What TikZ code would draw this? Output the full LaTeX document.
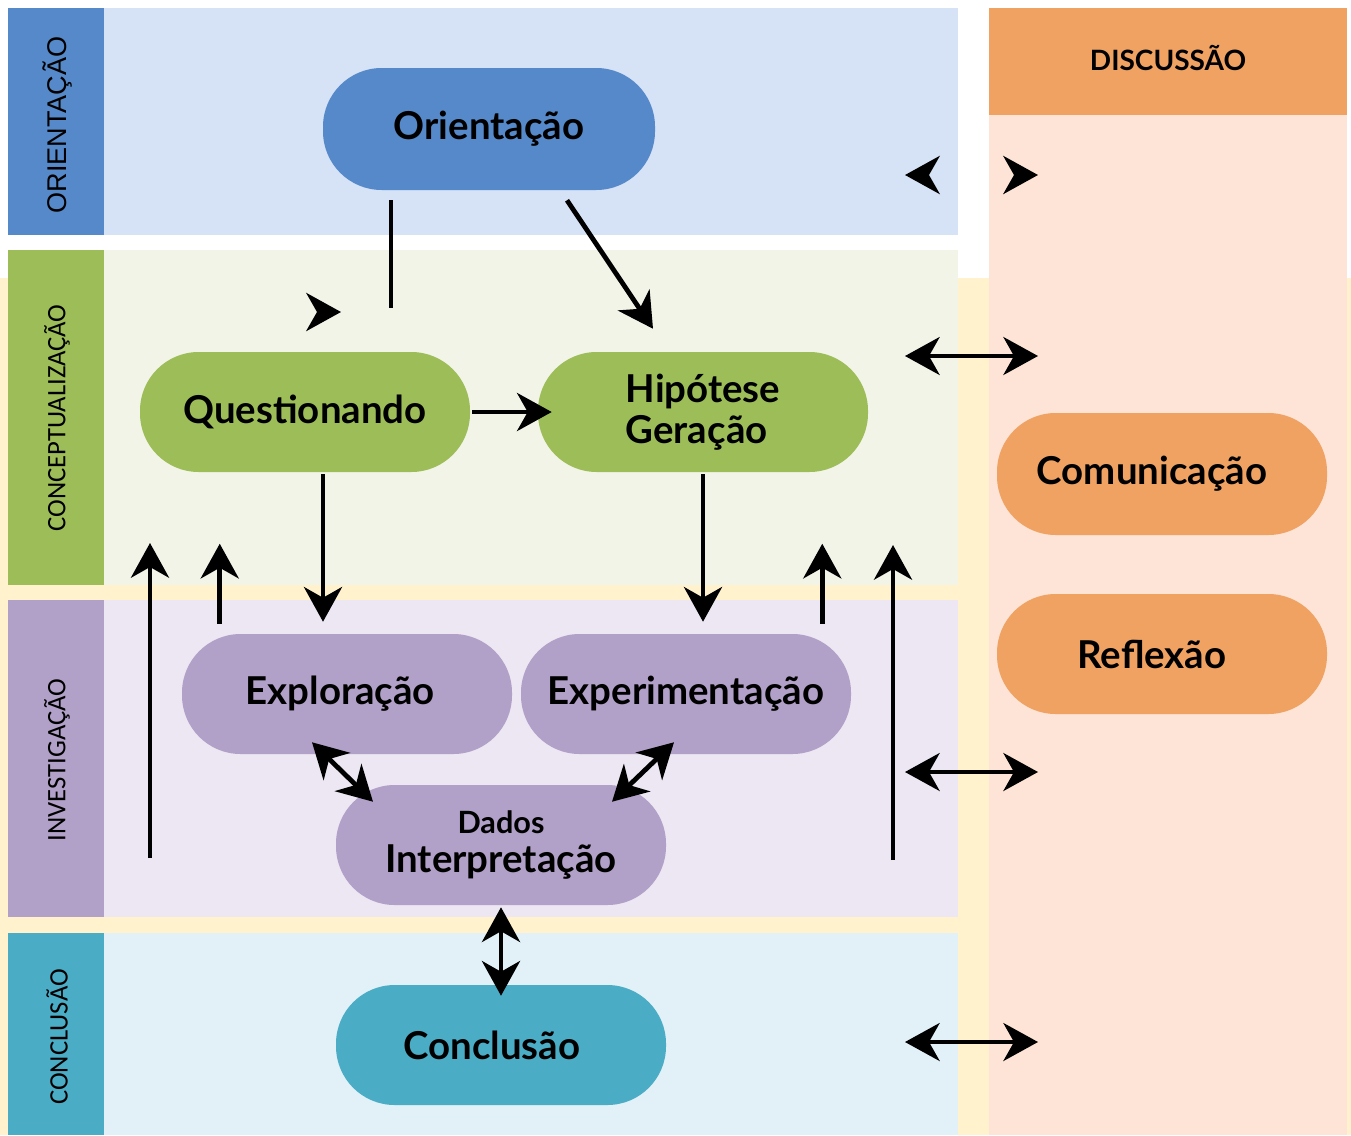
\documentclass[tikz,border=0pt]{standalone}
\usepackage{fontspec}
\setmainfont{Lato}
\newfontfamily\arialf{Liberation Sans}
\newfontfamily\calf{Carlito}
\usetikzlibrary{arrows.meta,calc}
\definecolor{bluedk}{HTML}{5689C9}
\definecolor{bluelt}{HTML}{D6E2F5}
\definecolor{greendk}{HTML}{9DBD59}
\definecolor{greenlt}{HTML}{F2F4E8}
\definecolor{purpdk}{HTML}{B1A0C7}
\definecolor{purplt}{HTML}{ECE7F2}
\definecolor{tealdk}{HTML}{4BACC6}
\definecolor{teallt}{HTML}{E1F1F7}
\definecolor{orgdk}{HTML}{F0A262}
\definecolor{orglt}{HTML}{FDE4D6}
\definecolor{ylw}{HTML}{FFF2CC}
\begin{document}
\begin{tikzpicture}[x=0.75pt,y=-0.75pt,
  pill/.style={rectangle, rounded corners=44pt, minimum width=247.5pt, minimum height=90pt, inner sep=0pt,
    font=\bfseries\fontsize{28.8}{32}\selectfont, text=black},
  tipS/.tip={Stealth[length=26pt,width=28.5pt,inset=8pt]},
  arr/.style={line width=3.6pt, -tipS},
  darr/.style={line width=3.6pt, tipS-tipS},
  harr/.style={line width=2.8pt, tipS-tipS},
  plain/.style={line width=3.6pt},
  sidelab/.style={rotate=90, text=black}]
\useasboundingbox (0,0) rectangle (1351,1135);
\fill[white] (0,0) rectangle (1351,1135);
\fill[ylw] (0,278) rectangle (1351,1135);
% discussion column
\fill[orglt] (989,115) rectangle (1347,1135);
\fill[orgdk] (989,8) rectangle (1347,115);
\node[font=\bfseries\fontsize{21}{23}\selectfont] (dischead) at (1168,58) {DISCUSSÃO};
% rows
\fill[bluelt] (104,8) rectangle (958,235);
\fill[bluedk] (8,8) rectangle (104,235);
\fill[greenlt] (104,250) rectangle (958,585);
\fill[greendk] (8,250) rectangle (104,585);
\fill[purplt] (104,600) rectangle (958,917);
\fill[purpdk] (8,600) rectangle (104,917);
\fill[teallt] (104,933) rectangle (958,1135);
\fill[tealdk] (8,933) rectangle (104,1135);
\node[sidelab, font=\arialf\fontsize{20.3}{22}\selectfont] (lo) at (57,125) {ORIENTAÇÃO};
\node[sidelab, font=\calf\fontsize{20}{22}\selectfont] (lc) at (57,418) {CONCEPTUALIZAÇÃO};
\node[sidelab, font=\calf\fontsize{20}{22}\selectfont] (li) at (57,760) {INVESTIGAÇÃO};
\node[sidelab, font=\calf\fontsize{20}{22}\selectfont] (lk) at (57,1037) {CONCLUSÃO};
% nodes
\node[pill, fill=bluedk, minimum width=249pt, minimum height=91.5pt] (o) at (489,129) {Orientação};
\node[pill, fill=greendk] (q) at (305,412) {Questionando};
\node[pill, fill=greendk, align=left] (h) at (703,412) {Hipótese\\[-1pt]Geração};
\node[pill, fill=orgdk, minimum height=91.5pt] (com) at (1162,474) {Comunicação\hspace*{15pt}};
\node[pill, fill=orgdk] (ref) at (1162,654) {Reflexão\hspace*{15pt}};
\node[pill, fill=purpdk] (ex) at (347,694) {Exploração\hspace*{10pt}};
\node[pill, fill=purpdk] (xp) at (686,694) {Experimentação};
\node[pill, fill=purpdk, align=center] (d) at (501,845) {{\fontsize{23}{26}\selectfont Dados}\\[-3pt]Interpretação};
\node[pill, fill=tealdk] (c) at (501,1045) {Conclusão\hspace*{14pt}};
% connectors
\coordinate (oq) at (391,308);
\draw[plain] ($(o.south)+(-98,10)$) -- (oq);
\coordinate (oqtip) at (341,312);
\draw[arr] ($(oqtip)+(-3,0)$) -- (oqtip);
\draw[arr] ($(o.south)+(78,10)$) -- ($(h.north)+(-50,-23)$);
\draw[arr] ($(q.east)+(2,0)$) -- ($(h.west)+(14,0)$);
\draw[arr] ($(q.south)+(18,2)$) -- ($(ex.north)+(-24,-12)$);
\draw[arr] ($(h.south)+(0,2)$) -- ($(xp.north)+(17,-12)$);
% upward arrows
\coordinate (u1a) at (150,858); \coordinate (u1b) at (150,543);
\coordinate (u4a) at (893,860); \coordinate (u4b) at (893,545);
\draw[arr] (u1a) -- (u1b);
\draw[arr] ($(ex.north west)+(38,-10)$) -- ++(0,-80);
\draw[arr] ($(xp.north east)+(-29,-10)$) -- ++(0,-80);
\draw[arr] (u4a) -- (u4b);
% investigation double arrows
\draw[darr] ($(ex.south)+(-35,-12)$) -- ($(d.north)+(-128,17)$);
\draw[darr] ($(xp.south)+(-12,-12)$) -- ($(d.north)+(111,17)$);
\draw[darr] ($(d.south)+(0,2)$) -- ($(c.north)+(0,11)$);
% discussion arrows
\coordinate (dl0) at (905,175); \coordinate (dr0) at (1038,175);
\draw[arr] ($(dl0)+(3,0)$) -- (dl0);
\draw[arr] ($(dr0)+(-3,0)$) -- (dr0);
\coordinate (dl1) at (905,356); \coordinate (dr1) at (1038,356);
\draw[harr] (dl1) -- (dr1);
\coordinate (dl2) at (905,772); \coordinate (dr2) at (1038,772);
\draw[harr] (dl2) -- (dr2);
\coordinate (dl3) at (905,1042); \coordinate (dr3) at (1038,1042);
\draw[harr] (dl3) -- (dr3);
\end{tikzpicture}
\end{document}
